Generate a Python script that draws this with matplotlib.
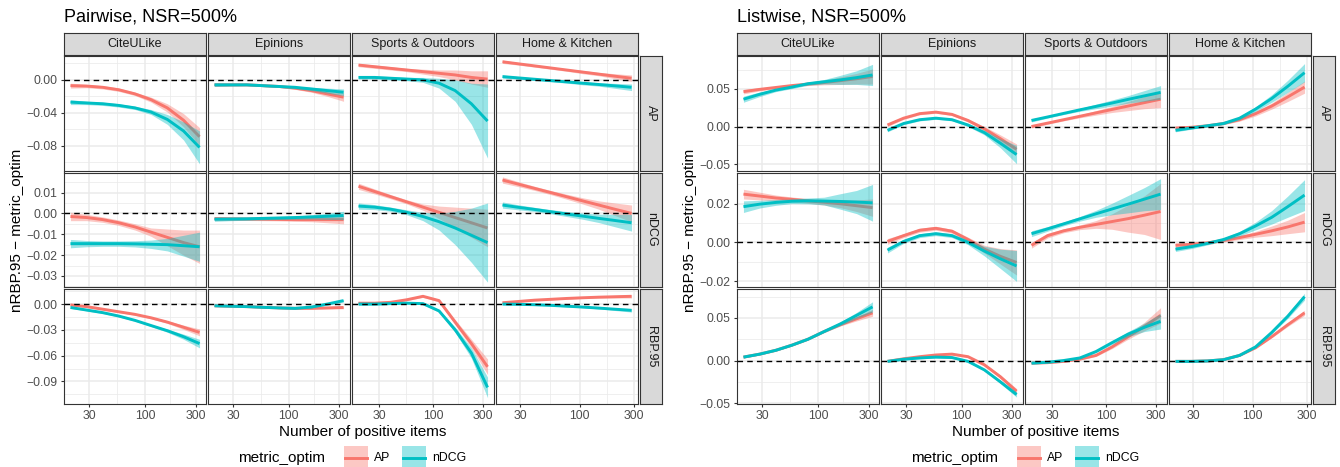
import numpy as np
import matplotlib
matplotlib.use("Agg")
import matplotlib.pyplot as plt
from matplotlib.patches import Rectangle
from matplotlib.lines import Line2D

plt.rcParams['font.family'] = ['Liberation Sans', 'DejaVu Sans']

datasets = ["CiteULike", "Epinions", "Sports & Outdoors", "Home & Kitchen"]
metrics = ["AP", "nDCG", "RBP.95"]
optims = ["AP", "nDCG"]

# number of positive items where the smoothed fits are read, per dataset
x_cite = [20, 28.4, 40.2, 56.9, 80.6, 114, 162, 230, 325]
x_epin = [20, 28.4, 40.3, 57.2, 81.2, 115, 164, 232, 330]
x_sports = [19, 27.2, 38.9, 55.7, 79.7, 114, 163, 234, 335]
x_home = [21, 29, 40.1, 55.5, 76.7, 106, 147, 203, 285]

# ---- Pairwise: fitted diff and half-width of the band, rows = datasets
pair_AP_ap = [
    [-0.007, -0.0075, -0.009, -0.012, -0.017, -0.024, -0.034, -0.049, -0.069],
    [-0.006, -0.006, -0.006, -0.007, -0.008, -0.010, -0.013, -0.017, -0.021],
    [0.018, 0.016, 0.014, 0.012, 0.010, 0.008, 0.006, 0.003, 0.001],
    [0.022, 0.0195, 0.017, 0.0145, 0.012, 0.0095, 0.007, 0.0045, 0.002],
]
pair_AP_ap_ci = [
    [0.003, 0.002, 0.002, 0.002, 0.002, 0.003, 0.005, 0.008, 0.011],
    [0.002, 0.0015, 0.0012, 0.0012, 0.0012, 0.0015, 0.002, 0.003, 0.005],
    [0.002, 0.002, 0.002, 0.002, 0.003, 0.004, 0.006, 0.008, 0.010],
    [0.002, 0.0015, 0.0015, 0.0015, 0.0015, 0.002, 0.002, 0.003, 0.004],
]
pair_AP_ndcg = [
    [-0.027, -0.028, -0.029, -0.031, -0.034, -0.039, -0.048, -0.062, -0.082],
    [-0.006, -0.006, -0.006, -0.007, -0.008, -0.009, -0.011, -0.013, -0.015],
    [0.003, 0.003, 0.002, 0.001, 0.000, -0.004, -0.013, -0.029, -0.050],
    [0.004, 0.0024, 0.0008, -0.0008, -0.0024, -0.004, -0.0056, -0.0072, -0.009],
]
pair_AP_ndcg_ci = [
    [0.003, 0.002, 0.002, 0.002, 0.002, 0.003, 0.006, 0.011, 0.020],
    [0.002, 0.0015, 0.0012, 0.0012, 0.0012, 0.0015, 0.002, 0.003, 0.004],
    [0.002, 0.002, 0.002, 0.002, 0.003, 0.006, 0.013, 0.025, 0.045],
    [0.002, 0.0015, 0.0015, 0.0015, 0.0015, 0.002, 0.002, 0.003, 0.004],
]
pair_nDCG_ap = [
    [-0.0015, -0.002, -0.003, -0.0045, -0.0065, -0.009, -0.0115, -0.014, -0.016],
    [-0.0025, -0.0026, -0.0027, -0.0028, -0.0029, -0.003, -0.003, -0.003, -0.003],
    [0.013, 0.0105, 0.008, 0.0055, 0.003, 0.0005, -0.002, -0.0045, -0.007],
    [0.016, 0.014, 0.012, 0.010, 0.008, 0.006, 0.004, 0.002, 0.000],
]
pair_nDCG_ap_ci = [
    [0.002, 0.0015, 0.0013, 0.0013, 0.0015, 0.002, 0.004, 0.006, 0.008],
    [0.001, 0.0008, 0.0007, 0.0007, 0.0007, 0.0008, 0.001, 0.0015, 0.002],
    [0.0015, 0.0012, 0.001, 0.001, 0.0015, 0.003, 0.005, 0.007, 0.009],
    [0.0015, 0.0012, 0.001, 0.001, 0.0012, 0.0015, 0.002, 0.003, 0.004],
]
pair_nDCG_ndcg = [
    [-0.0145, -0.0145, -0.0145, -0.0145, -0.0146, -0.0148, -0.015, -0.0155, -0.016],
    [-0.0028, -0.0027, -0.0026, -0.0024, -0.0022, -0.002, -0.0017, -0.0014, -0.001],
    [0.0035, 0.003, 0.002, 0.0005, -0.0015, -0.004, -0.007, -0.0105, -0.014],
    [0.004, 0.0029, 0.0019, 0.0008, -0.0003, -0.0013, -0.0024, -0.0034, -0.0045],
]
pair_nDCG_ndcg_ci = [
    [0.002, 0.0015, 0.0013, 0.0013, 0.0015, 0.002, 0.003, 0.005, 0.007],
    [0.001, 0.0008, 0.0007, 0.0007, 0.0007, 0.0008, 0.001, 0.0015, 0.002],
    [0.0015, 0.0012, 0.001, 0.0012, 0.002, 0.004, 0.008, 0.013, 0.019],
    [0.0015, 0.0012, 0.001, 0.001, 0.0012, 0.0015, 0.002, 0.003, 0.004],
]
pair_RBP_ap = [
    [-0.001, -0.003, -0.006, -0.009, -0.012, -0.016, -0.021, -0.027, -0.033],
    [-0.002, -0.0025, -0.003, -0.0038, -0.0045, -0.005, -0.005, -0.0045, -0.004],
    [0.001, 0.001, 0.002, 0.005, 0.009, 0.004, -0.021, -0.046, -0.073],
    [0.0015, 0.003, 0.0045, 0.0055, 0.0065, 0.0073, 0.008, 0.0085, 0.009],
]
pair_RBP_ap_ci = [
    [0.001, 0.001, 0.001, 0.001, 0.001, 0.0012, 0.0015, 0.0025, 0.004],
    [0.001, 0.0008, 0.0008, 0.0008, 0.0008, 0.0008, 0.001, 0.0012, 0.0015],
    [0.0015, 0.0012, 0.001, 0.001, 0.0012, 0.0015, 0.003, 0.005, 0.009],
    [0.001, 0.0008, 0.0008, 0.0008, 0.0008, 0.0008, 0.001, 0.0015, 0.002],
]
pair_RBP_ndcg = [
    [-0.004, -0.007, -0.010, -0.014, -0.019, -0.025, -0.031, -0.038, -0.046],
    [-0.002, -0.0025, -0.003, -0.0038, -0.0045, -0.005, -0.0035, 0.0, 0.004],
    [0.000, 0.000, 0.0005, 0.001, 0.0005, -0.008, -0.030, -0.057, -0.097],
    [0.0, -0.0003, -0.0008, -0.0015, -0.0025, -0.0035, -0.0047, -0.006, -0.0073],
]
pair_RBP_ndcg_ci = [
    [0.001, 0.001, 0.001, 0.001, 0.001, 0.0012, 0.0018, 0.003, 0.005],
    [0.001, 0.0008, 0.0008, 0.0008, 0.0008, 0.0008, 0.001, 0.0012, 0.0015],
    [0.0015, 0.0012, 0.001, 0.001, 0.0012, 0.0015, 0.003, 0.006, 0.012],
    [0.001, 0.0008, 0.0008, 0.0008, 0.0008, 0.0008, 0.001, 0.0015, 0.002],
]

# ---- Listwise
list_AP_ap = [
    [0.046, 0.049, 0.0515, 0.054, 0.056, 0.058, 0.0605, 0.063, 0.066],
    [0.002, 0.011, 0.017, 0.019, 0.016, 0.008, -0.003, -0.016, -0.030],
    [0.000, 0.0045, 0.009, 0.0135, 0.018, 0.0225, 0.027, 0.0315, 0.036],
    [-0.002, -0.001, 0.001, 0.004, 0.009, 0.017, 0.027, 0.039, 0.052],
]
list_AP_ap_ci = [
    [0.003, 0.002, 0.0015, 0.0015, 0.002, 0.003, 0.005, 0.007, 0.010],
    [0.002, 0.0015, 0.0015, 0.0015, 0.0015, 0.002, 0.003, 0.005, 0.007],
    [0.002, 0.0015, 0.0015, 0.002, 0.003, 0.004, 0.006, 0.008, 0.011],
    [0.002, 0.0015, 0.0015, 0.0015, 0.002, 0.003, 0.004, 0.006, 0.008],
]
list_AP_ndcg = [
    [0.036, 0.0425, 0.048, 0.052, 0.0565, 0.059, 0.0615, 0.0645, 0.068],
    [-0.005, 0.004, 0.009, 0.011, 0.009, 0.002, -0.008, -0.022, -0.037],
    [0.008, 0.0126, 0.0173, 0.022, 0.0265, 0.031, 0.0358, 0.0404, 0.045],
    [-0.005, -0.002, 0.001, 0.004, 0.011, 0.023, 0.037, 0.053, 0.071],
]
list_AP_ndcg_ci = [
    [0.004, 0.003, 0.002, 0.002, 0.002, 0.003, 0.006, 0.009, 0.014],
    [0.002, 0.0015, 0.0015, 0.0015, 0.0015, 0.002, 0.003, 0.006, 0.012],
    [0.002, 0.0015, 0.0015, 0.002, 0.003, 0.004, 0.005, 0.007, 0.009],
    [0.002, 0.0015, 0.0015, 0.0015, 0.002, 0.003, 0.005, 0.008, 0.012],
]
list_nDCG_ap = [
    [0.025, 0.024, 0.023, 0.0223, 0.0215, 0.0208, 0.020, 0.019, 0.018],
    [0.0005, 0.0035, 0.0063, 0.0073, 0.0058, 0.0015, -0.0035, -0.0072, -0.0104],
    [-0.0015, 0.0035, 0.006, 0.0078, 0.0093, 0.0108, 0.0123, 0.0141, 0.016],
    [-0.0015, -0.001, -0.0002, 0.001, 0.0025, 0.0042, 0.006, 0.008, 0.0105],
]
list_nDCG_ap_ci = [
    [0.0025, 0.002, 0.0015, 0.0012, 0.0012, 0.0015, 0.002, 0.003, 0.0045],
    [0.0015, 0.001, 0.001, 0.001, 0.001, 0.0012, 0.002, 0.004, 0.0065],
    [0.0015, 0.0012, 0.001, 0.0012, 0.002, 0.004, 0.007, 0.010, 0.0145],
    [0.0012, 0.001, 0.0008, 0.0008, 0.001, 0.0015, 0.0025, 0.0035, 0.005],
]
list_nDCG_ndcg = [
    [0.0185, 0.0198, 0.0207, 0.0213, 0.0215, 0.0214, 0.0212, 0.0209, 0.0205],
    [-0.004, 0.0005, 0.0035, 0.0045, 0.0035, 0.0, -0.0045, -0.0085, -0.0122],
    [0.0045, 0.007, 0.0096, 0.0122, 0.0148, 0.0173, 0.0198, 0.0224, 0.025],
    [-0.0035, -0.0022, -0.0005, 0.0015, 0.0045, 0.0085, 0.013, 0.0185, 0.0245],
]
list_nDCG_ndcg_ci = [
    [0.003, 0.002, 0.0015, 0.0012, 0.0015, 0.002, 0.004, 0.006, 0.0095],
    [0.0015, 0.001, 0.001, 0.001, 0.001, 0.0012, 0.0025, 0.005, 0.008],
    [0.0015, 0.0012, 0.001, 0.0012, 0.0018, 0.003, 0.0045, 0.006, 0.008],
    [0.0012, 0.001, 0.0008, 0.0008, 0.0012, 0.002, 0.0035, 0.0055, 0.008],
]
list_RBP_ap = [
    [0.004, 0.0075, 0.012, 0.018, 0.025, 0.034, 0.042, 0.049, 0.056],
    [-0.001, 0.002, 0.0045, 0.0065, 0.0075, 0.0045, -0.005, -0.019, -0.036],
    [-0.003, -0.0025, -0.001, 0.0016, 0.006, 0.016, 0.028, 0.040, 0.053],
    [-0.001, -0.001, -0.0005, 0.001, 0.006, 0.015, 0.028, 0.042, 0.056],
]
list_RBP_ap_ci = [
    [0.0012, 0.001, 0.001, 0.001, 0.001, 0.0012, 0.0015, 0.0025, 0.004],
    [0.001, 0.001, 0.001, 0.001, 0.001, 0.001, 0.0012, 0.002, 0.003],
    [0.0015, 0.001, 0.001, 0.001, 0.0012, 0.002, 0.003, 0.005, 0.009],
    [0.001, 0.001, 0.001, 0.001, 0.001, 0.001, 0.0012, 0.002, 0.003],
]
list_RBP_ndcg = [
    [0.004, 0.0075, 0.012, 0.018, 0.025, 0.034, 0.043, 0.053, 0.063],
    [-0.001, 0.0015, 0.003, 0.004, 0.0035, -0.001, -0.011, -0.025, -0.040],
    [-0.003, -0.002, 0.0, 0.003, 0.0105, 0.021, 0.031, 0.039, 0.046],
    [-0.001, -0.001, -0.0005, 0.001, 0.006, 0.016, 0.033, 0.052, 0.075],
]
list_RBP_ndcg_ci = [
    [0.0012, 0.001, 0.001, 0.001, 0.001, 0.0012, 0.002, 0.0035, 0.006],
    [0.001, 0.001, 0.001, 0.001, 0.001, 0.001, 0.0012, 0.002, 0.003],
    [0.0015, 0.001, 0.001, 0.001, 0.0012, 0.002, 0.003, 0.005, 0.009],
    [0.001, 0.001, 0.001, 0.001, 0.001, 0.001, 0.0015, 0.0025, 0.004],
]

RED = "#F8766D"
CYAN = "#00BFC4"
GRID = "#EBEBEB"
DARK = "#333333"

xs = [x_cite, x_epin, x_sports, x_home]

# y range and breaks of each facet row (free y scales)
pair_rows = [
    (pair_AP_ap, pair_AP_ap_ci, pair_AP_ndcg, pair_AP_ndcg_ci, (-0.110, 0.029), [-0.08, -0.04, 0.0]),
    (pair_nDCG_ap, pair_nDCG_ap_ci, pair_nDCG_ndcg, pair_nDCG_ndcg_ci, (-0.0353, 0.0196),
     [-0.03, -0.02, -0.01, 0.0, 0.01]),
    (pair_RBP_ap, pair_RBP_ap_ci, pair_RBP_ndcg, pair_RBP_ndcg_ci, (-0.1157, 0.0175),
     [-0.09, -0.06, -0.03, 0.0]),
]
list_rows = [
    (list_AP_ap, list_AP_ap_ci, list_AP_ndcg, list_AP_ndcg_ci, (-0.058, 0.093), [-0.05, 0.0, 0.05]),
    (list_nDCG_ap, list_nDCG_ap_ci, list_nDCG_ndcg, list_nDCG_ndcg_ci, (-0.0231, 0.0362),
     [-0.02, 0.0, 0.02]),
    (list_RBP_ap, list_RBP_ap_ci, list_RBP_ndcg, list_RBP_ndcg_ci, (-0.0505, 0.084),
     [-0.05, 0.0, 0.05]),
]

W, H = 1340.0, 467.0
fig = plt.figure(figsize=(13.4, 4.67), dpi=100)


def box(x0, y0, w, h):
    return fig.add_axes([x0 / W, 1 - (y0 + h) / H, w / W, h / H])


def strip(x0, y0, w, h, label, rot):
    s = box(x0, y0, w, h)
    s.set_facecolor("#D9D9D9")
    s.set_xticks([])
    s.set_yticks([])
    for sp in s.spines.values():
        sp.set_color(DARK)
        sp.set_linewidth(0.8)
    s.text(0.5, 0.5, label, ha="center", va="center", rotation=rot,
           fontsize=9, color="#1A1A1A", transform=s.transAxes)


def fmt(v):
    return ("%.2f" % v).replace("-", "\u2212")


def draw_chart(left, title, rows):
    pw, ph = 142, 114.5
    for r, (ap, ap_ci, nd, nd_ci, ylim, yt) in enumerate(rows):
        top = 56 + r * 116.5
        step = yt[1] - yt[0]
        ymin = [yt[0] - step / 2] + [(a + b) / 2 for a, b in zip(yt[:-1], yt[1:])] + [yt[-1] + step / 2]
        for c in range(4):
            ax = box(left + c * 144, top, pw, ph)
            x = np.array(xs[c])
            for fit, ci, col in [(ap, ap_ci, RED), (nd, nd_ci, CYAN)]:
                f = np.array(fit[c])
                e = np.array(ci[c])
                ax.fill_between(x, f - e, f + e, color=col, alpha=0.4, lw=0, zorder=2)
                ax.plot(x, f, color=col, lw=2.1, zorder=2, solid_capstyle="butt",
                        solid_joinstyle="round")
            ax.axhline(0, color="black", lw=1.0, ls=(0, (4, 3)), zorder=4)

            ax.set_xscale("log")
            lo, hi = np.log10(x[0]), np.log10(x[-1])
            pad = 0.05 * (hi - lo)
            ax.set_xlim(10 ** (lo - pad), 10 ** (hi + pad))
            ax.set_xticks([30, 100, 300])
            ax.set_xticks([54.77, 173.2], minor=True)
            ax.set_yticks(yt)
            ax.set_yticks(ymin, minor=True)
            ax.set_axisbelow(True)
            ax.grid(True, which="major", color=GRID, lw=1.1)
            ax.grid(True, which="minor", color=GRID, lw=0.55)
            for sp in ax.spines.values():
                sp.set_color(DARK)
                sp.set_linewidth(0.8)
            ax.tick_params(which="minor", length=0)
            ax.tick_params(which="major", length=2.5, width=0.8, color=DARK,
                           labelsize=8.8, labelcolor="#4D4D4D", pad=2)
            if c == 0:
                ax.set_yticklabels([fmt(v) for v in yt])
            else:
                ax.set_yticklabels([])
                ax.tick_params(axis="y", length=0)
            if r == 2:
                ax.set_xticklabels(["30", "100", "300"])
            else:
                ax.set_xticklabels([])
                ax.tick_params(axis="x", length=0)
            ax.set_ylim(ylim)

            if r == 0:
                strip(left + c * 144, 33, pw, 22, datasets[c], 0)
        strip(left + 576, top, 22, ph, metrics[r], -90)

    fig.text(left / W, 1 - 17 / H, title, fontsize=13, ha="left", va="center")
    fig.text((left + 299) / W, 1 - 432 / H, "Number of positive items",
             fontsize=11, ha="center", va="center")
    fig.text((left - 47) / W, 1 - 230 / H, "nRBP.95 \u2212 metric_optim",
             fontsize=11, ha="center", va="center", rotation=90)

    # legend
    ly = 1 - 458 / H
    fig.text((left + 174) / W, ly, "metric_optim", fontsize=11, ha="left", va="center")
    for k, (lab, col) in enumerate(zip(optims, [RED, CYAN])):
        kx = left + 280 + k * 58
        fig.patches.append(Rectangle((kx / W, 1 - 470 / H), 24 / W, 24 / H,
                                     transform=fig.transFigure, facecolor=col,
                                     alpha=0.4, lw=0))
        fig.lines.append(Line2D([(kx + 1) / W, (kx + 23) / W], [ly, ly],
                                transform=fig.transFigure, color=col, lw=2.1))
        fig.text((kx + 30) / W, ly, lab, fontsize=8.8, ha="left", va="center")


draw_chart(64, "Pairwise, NSR=500%", pair_rows)
draw_chart(737, "Listwise, NSR=500%", list_rows)

fig.savefig("out.png", dpi=100, facecolor="white")
